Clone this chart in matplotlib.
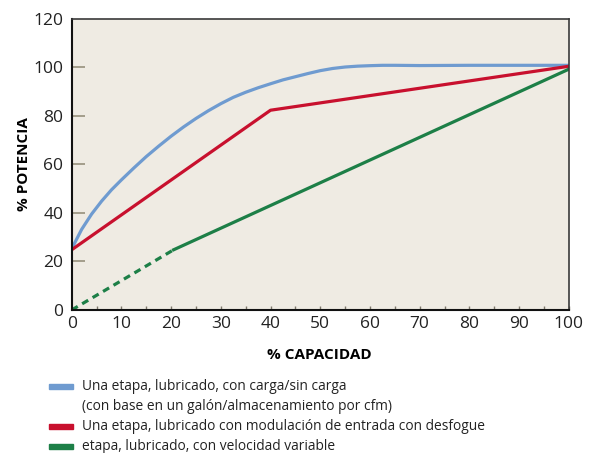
import numpy as np
import matplotlib
matplotlib.use("Agg")
import matplotlib.pyplot as plt
from matplotlib.patches import Rectangle

plt.rcParams['font.family'] = ['Open Sans', 'DejaVu Sans']

# data
blue_x = [0, 2, 4, 6, 8, 10, 12.5, 15, 17.5, 20, 22.5, 25, 27.5, 30, 32.5, 35, 37.5,
          40, 42.5, 45, 47.5, 50, 52.5, 55, 57.5, 60, 62.5, 65, 70, 80, 90, 100]
blue_y = [25.2, 33.2, 39.5, 44.8, 49.5, 53.6, 58.5, 63.2, 67.5, 71.6, 75.4, 78.9, 82.1,
          85.0, 87.6, 89.7, 91.55, 93.2, 94.8, 96.1, 97.4, 98.6, 99.5, 100.1, 100.45,
          100.65, 100.8, 100.8, 100.7, 100.8, 100.8, 100.8]

red_x = [0, 40, 100]
red_y = [24.8, 82.3, 100.4]

green_dash_x = [0, 20.5]
green_dash_y = [0, 24.8]
green_x = [20.5, 100]
green_y = [24.8, 99.2]

legend_lines = [
    ["Una etapa, lubricado, con carga/sin carga",
     "(con base en un galón/almacenamiento por cfm)"],
    ["Una etapa, lubricado con modulación de entrada con desfogue"],
    ["etapa, lubricado, con velocidad variable"],
]

c_blue = '#6f9bd0'
c_red = '#c8102e'
c_green = '#1d7f47'
c_tick = '#a39d8b'

fig = plt.figure(figsize=(6, 4.53), dpi=100)
ax = fig.add_axes([0.1195, 0.3157, 0.8285, 0.643])
ax.set_facecolor('#efebe3')

ax.plot(blue_x, blue_y, color=c_blue, lw=2.3, solid_joinstyle='round')
ax.plot(red_x, red_y, color=c_red, lw=2.3)
ax.plot(green_dash_x, green_dash_y, color=c_green, lw=2.3, dashes=(2.2, 1.6))
ax.plot(green_x, green_y, color=c_green, lw=2.3)

ax.set_xlim(0, 100)
ax.set_ylim(0, 120)
ax.set_xticks(range(0, 101, 10))
ax.set_xticks(range(0, 101, 5), minor=True)
ax.set_yticks(range(0, 121, 20))

ax.tick_params(axis='y', direction='in', length=9.5, width=1.4, color=c_tick,
               labelsize=12.5, pad=6, labelcolor='#222222')
ax.tick_params(axis='x', which='both', direction='in', length=3, width=1.0,
               color='#7d776a', labelsize=12.5, pad=4, labelcolor='#222222')
ylines = ax.yaxis.get_ticklines()
for i in (0, 1, len(ylines) - 2, len(ylines) - 1):
    ylines[i].set_visible(False)

for s in ('left', 'bottom'):
    ax.spines[s].set_color('#111111')
    ax.spines[s].set_linewidth(1.5)
for s in ('top', 'right'):
    ax.spines[s].set_color('#3a3a3a')
    ax.spines[s].set_linewidth(1.2)

ax.set_ylabel('% POTENCIA', fontsize=11, fontweight='bold', labelpad=2)
fig.text(0.533, 1 - 355 / 453, '% CAPACIDAD', fontsize=11, fontweight='bold',
         ha='center', va='center')

# legend drawn by hand so the handle sits on the first line
colors = [c_blue, c_red, c_green]
rows = [386, 426, 446]
for lines, col, yy in zip(legend_lines, colors, rows):
    fig.patches.append(Rectangle((49 / 600, 1 - (yy + 2.5) / 453), 24 / 600, 5 / 453,
                                 transform=fig.transFigure, color=col))
    for k, txt in enumerate(lines):
        fig.text(82 / 600, 1 - (yy + 20 * k) / 453, txt, fontsize=9.9,
                 va='center', color='#222222')

fig.savefig('out.png', dpi=100)
